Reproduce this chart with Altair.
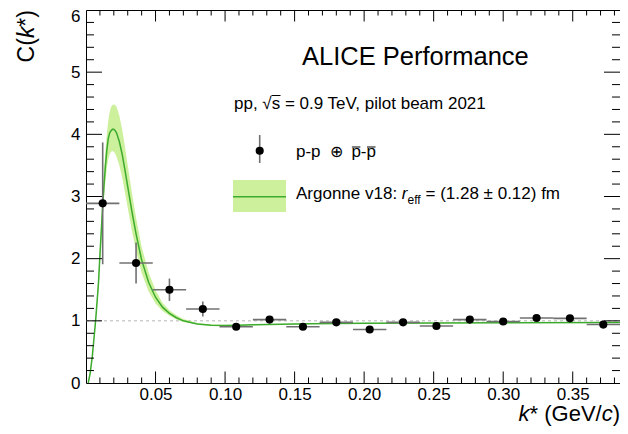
import altair as alt
import pandas as pd

# ---------------- data ----------------
k_pts = [0.012, 0.036, 0.060, 0.084, 0.108, 0.132, 0.156, 0.180,
         0.204, 0.228, 0.252, 0.276, 0.300, 0.324, 0.348, 0.372]
c_pts = [2.89, 1.93, 1.50, 1.19, 0.905, 1.02, 0.905, 0.976,
         0.86, 0.976, 0.917, 1.02, 0.99, 1.045, 1.04, 0.94]
e_pts = [0.98, 0.33, 0.18, 0.12, 0.05, 0.04, 0.035, 0.03,
         0.03, 0.03, 0.03, 0.03, 0.03, 0.03, 0.03, 0.03]
bin_half = [0.012] * 16

fit_k = [0.0016, 0.003, 0.0045, 0.006, 0.007, 0.008, 0.009, 0.010, 0.011, 0.012,
         0.013, 0.014, 0.015, 0.016, 0.017, 0.018, 0.019, 0.020, 0.021, 0.022,
         0.024, 0.026, 0.028, 0.030, 0.033, 0.036, 0.040, 0.045, 0.050, 0.055,
         0.060, 0.065, 0.070, 0.080, 0.090, 0.100, 0.110, 0.120, 0.140, 0.160,
         0.200, 0.250, 0.300, 0.384]
fit_c = [0.0, 0.16, 0.42, 0.78, 1.03, 1.32, 1.62, 2.05, 2.45, 2.85,
         3.2, 3.5, 3.75, 3.93, 4.02, 4.06, 4.08, 4.08, 4.06, 4.02,
         3.88, 3.68, 3.43, 3.16, 2.76, 2.40, 1.98, 1.62, 1.38, 1.22,
         1.12, 1.05, 1.00, 0.95, 0.93, 0.925, 0.928, 0.935, 0.945, 0.952,
         0.96, 0.965, 0.97, 0.975]
band_lo = [0.0, 0.15, 0.40, 0.74, 0.97, 1.24, 1.52, 1.92, 2.30, 2.66,
           2.98, 3.25, 3.46, 3.60, 3.68, 3.72, 3.73, 3.72, 3.69, 3.64,
           3.50, 3.31, 3.07, 2.82, 2.45, 2.13, 1.77, 1.47, 1.28, 1.16,
           1.08, 1.02, 0.98, 0.94, 0.92, 0.915, 0.92, 0.928, 0.94, 0.947,
           0.956, 0.962, 0.967, 0.972]
band_hi = [0.0, 0.17, 0.44, 0.82, 1.09, 1.40, 1.72, 2.18, 2.60, 3.04,
           3.42, 3.75, 4.02, 4.22, 4.36, 4.44, 4.47, 4.48, 4.47, 4.44,
           4.30, 4.08, 3.80, 3.50, 3.06, 2.66, 2.19, 1.78, 1.49, 1.29,
           1.17, 1.09, 1.03, 0.965, 0.94, 0.935, 0.937, 0.943, 0.95, 0.957,
           0.964, 0.968, 0.973, 0.978]

x_major = [0.05, 0.10, 0.15, 0.20, 0.25, 0.30, 0.35]
x_minor = [round(0.01 * i, 2) for i in range(1, 39) if i % 5 != 0]
y_labels = [0, 1, 2, 3, 4, 5, 6]
y_major = [1, 2, 3, 4, 5]
y_minor = [round(0.2 * i, 1) for i in range(1, 30) if i % 5 != 0]

# ---------------- layout ----------------
W, H = 534, 373
XMIN, XMAX, YMIN, YMAX = 0.0, 0.384, 0.0, 6.0
FONT = "Liberation Sans"
BAND = "#ccf09c"
LINE = "#3cab2e"
ERR = "#707070"

xs = alt.Scale(domain=[XMIN, XMAX], nice=False, zero=False)
ys = alt.Scale(domain=[YMIN, YMAX], nice=False)
xax = alt.Axis(values=x_major, format=".2f", labelFont=FONT, labelFontSize=17,
               labelColor="black", ticks=False, domain=False, grid=False,
               labelPadding=3, labelFlush=False, title=None)
yax = alt.Axis(values=y_labels, format="d", labelFont=FONT, labelFontSize=17,
               labelColor="black", ticks=False, domain=False, grid=False,
               labelPadding=6, labelFlush=False, title=None,
               labelOffset=alt.ExprRef("datum.value == 6 ? 6 : 0"))

X = lambda f: alt.X(f, type="quantitative", scale=xs, axis=xax)
Y = lambda f: alt.Y(f, type="quantitative", scale=ys, axis=yax)

# ---- one segment table: error bars of the points + inward frame ticks ----
dx = lambda px: px / W * (XMAX - XMIN)
dy = lambda px: px / H * (YMAX - YMIN)
rows = []
for k, c, e, h in zip(k_pts, c_pts, e_pts, bin_half):
    rows.append(("err", k, k, c - e, c + e))
    rows.append(("err", k - h, k + h, c, c))
for v in x_major + x_minor:
    L = dy(11.5 if v in x_major else 5.5)
    rows.append(("tick", v, v, YMIN, YMIN + L))
    rows.append(("tick", v, v, YMAX, YMAX - L))
for v in y_major + y_minor:
    L = dx(16 if v in y_major else 8)
    rows.append(("tick", XMIN, XMIN + L, v, v))
    rows.append(("tick", XMAX, XMAX - L, v, v))
seg_df = pd.DataFrame(rows, columns=["kind", "sx1", "sx2", "sy1", "sy2"])

pts = pd.DataFrame({"k": k_pts, "c": c_pts})
fit = pd.DataFrame({"k": fit_k, "c": fit_c, "lo": band_lo, "hi": band_hi})

dash = alt.Chart(pd.DataFrame({"lvl": [1.0]})).mark_rule(
    color="#b5b5b5", strokeDash=[3, 3], strokeWidth=1
).encode(y=Y("lvl"), x=alt.value(0), x2=alt.value(W))

band = alt.Chart(fit).mark_area(color=BAND, opacity=1).encode(
    x=X("k"), y=Y("lo"), y2="hi")
line = alt.Chart(fit).mark_line(color=LINE, strokeWidth=1.5).encode(
    x=X("k"), y=Y("c"))

segs = alt.Chart(seg_df).mark_rule(opacity=1).encode(
    x=X("sx1"), x2="sx2", y=Y("sy1"), y2="sy2",
    color=alt.Color("kind:N", scale=alt.Scale(domain=["err", "tick"], range=[ERR, "#000000"]),
                    legend=None),
    strokeWidth=alt.StrokeWidth("kind:N", scale=alt.Scale(domain=["err", "tick"], range=[1.6, 1.0]),
                                legend=None),
)
dots = alt.Chart(pts).mark_circle(color="black", opacity=1, size=66).encode(
    x=X("k"), y=Y("c"))


def txt(s, x, y, size=17, align="left", baseline="alphabetic", style="normal",
        angle=0, color="black"):
    kw = dict(text=s, font=FONT, fontSize=size, align=align, baseline=baseline,
              fontStyle=style, color=color)
    if angle:
        kw["angle"] = angle
    return alt.Chart(pd.DataFrame({"a": [0]})).mark_text(**kw).encode(
        x=alt.value(x), y=alt.value(y))


def seg(x1, x2, y1, y2, color="black", width=1.2):
    return alt.Chart(pd.DataFrame({"a": [0]})).mark_rule(
        color=color, strokeWidth=width).encode(
        x=alt.value(x1), x2=alt.value(x2), y=alt.value(y1), y2=alt.value(y2))


# legend symbols
leg_box = alt.Chart(pd.DataFrame({"a": [0]})).mark_rect(color=BAND).encode(
    x=alt.value(147), x2=alt.value(200), y=alt.value(170), y2=alt.value(202))
leg_line = seg(147, 200, 186.7, 186.7, color=LINE, width=1.5)
leg_bar = seg(173.7, 173.7, 125, 153, color=ERR, width=1.6)
leg_dot = alt.Chart(pd.DataFrame({"a": [0]})).mark_circle(
    color="black", opacity=1, size=66).encode(x=alt.value(173.7), y=alt.value(140.7))

texts = [
    txt("ALICE Performance", 216, 55, size=25.5),
    txt("pp, \u221As = 0.9 TeV, pilot beam 2021", 148, 99),
    seg(185.5, 194.5, 85.5, 85.5, width=1),
    txt("p-p", 210, 147),
    txt("\u2295", 250, 147, size=16, align="center"),
    txt("p-p", 265.4, 147),
    seg(265.9, 274.4, 137, 137, width=1),
    seg(281.0, 289.5, 137, 137, width=1),
    txt("Argonne v18:", 210, 189),
    txt("r", 315.8, 189, style="italic"),
    txt("eff", 321.5, 194, size=12),
    txt("= (1.28 \u00B1 0.12) fm", 339.5, 189),
    # y title
    txt("*)", -59.5, 0, size=23, align="right", baseline="middle", angle=270),
    txt("k", -59.5, 16.6, size=23, align="right", baseline="middle", angle=270, style="italic"),
    txt("C(", -59.5, 28.1, size=23, align="right", baseline="middle", angle=270),
    # x title
    txt(")", W, 411, size=22, align="right"),
    txt("c", W - 7.3, 411, size=22, align="right", style="italic"),
    txt("* (GeV/", W - 18.3, 411, size=22, align="right"),
    txt("k", W - 90.4, 411, size=22, align="right", style="italic"),
]

chart = alt.layer(
    dash, band, line, segs, dots,
    leg_box, leg_line, leg_bar, leg_dot, *texts
).properties(
    width=W, height=H,
    autosize=alt.AutoSizeParams(type="none"),
    padding={"left": 78, "top": 2, "right": 0, "bottom": 43},
).configure_view(stroke="black", strokeWidth=1)

chart.save("out.html", embed_options={"renderer": "svg", "actions": False})
